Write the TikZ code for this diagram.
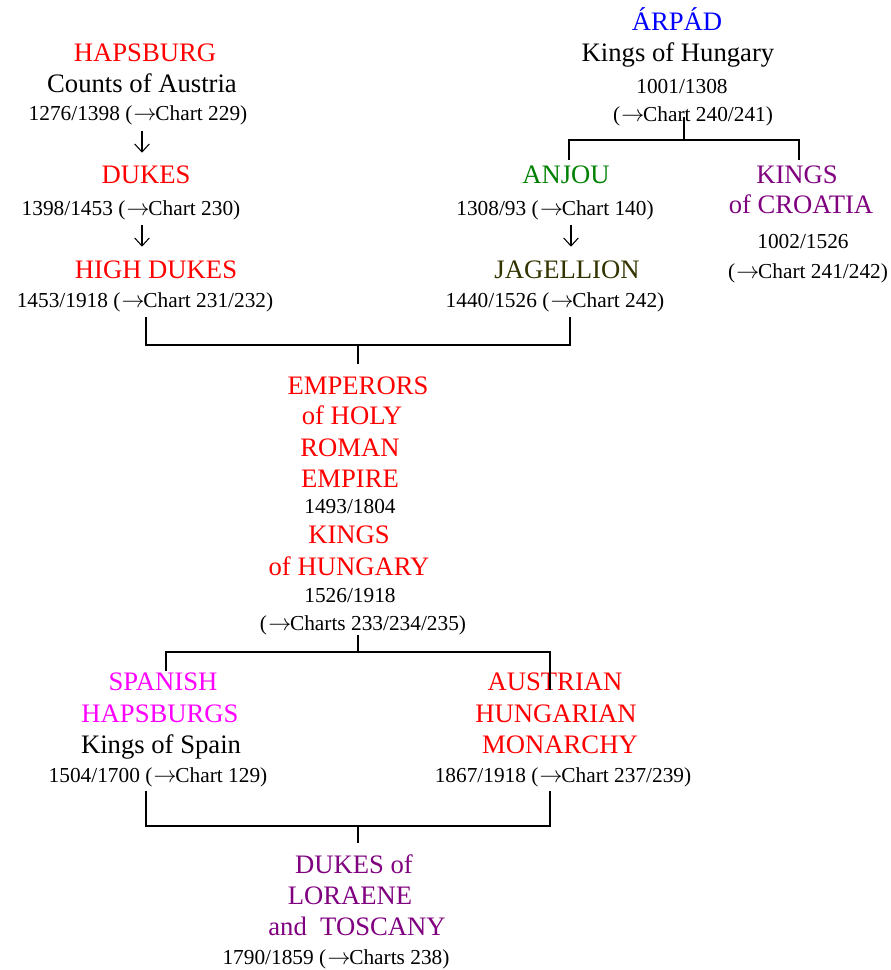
\documentclass[tikz,border=0pt]{standalone}
\usepackage{fontspec}
\setmainfont{Liberation Serif}
\usepackage{xcolor}
\usetikzlibrary{arrows.meta,calc}
\definecolor{arpadblue}{RGB}{0,0,255}
\definecolor{anjougreen}{RGB}{0,128,0}
\definecolor{jagolive}{RGB}{51,51,0}
\definecolor{lorpurple}{RGB}{128,0,128}
\definecolor{spamagenta}{RGB}{255,0,255}
\newcommand{\toarr}{\mbox{$\mkern1mu\rightarrow\mkern-1mu$}}

\begin{document}
\begin{tikzpicture}[x=0.75pt,y=-0.75pt,
    every node/.style={inner sep=0pt,anchor=base},
    big/.style={font=\fontsize{20}{24}\selectfont},
    small/.style={font=\fontsize{16}{19}\selectfont},
    link/.style={line width=1.1pt},
    down/.style={line width=0.8pt,-{Straight Barb[length=6pt,width=11pt,line width=0.8pt]},
                 shorten <=4pt,shorten >=10pt}]
  \useasboundingbox (0,0) rectangle (890,970);
  % Hapsburg line
  \node[big,red]   (haps1) at (145,62)  {HAPSBURG};
  \node[big]       (haps2) at (142,93)  {Counts of Austria};
  \node[small]     (haps3) at (138,121) {1276/1398 (\toarr Chart 229)};
  \node[big,red]   (dukes1) at (146,184) {DUKES};
  \node[small]     (dukes2) at (131,215) {1398/1453 (\toarr Chart 230)};
  \node[big,red]   (high1) at (156,278) {HIGH DUKES};
  \node[small]     (high2) at (145,307) {1453/1918 (\toarr Chart 231/232)};
  \draw[down] (haps3.south -| haps2) -- (dukes1.north -| haps2);
  \draw[down] (dukes2.south -| haps2) -- (high1.north -| haps2);
  % Arpad line
  \node[big,arpadblue] (arp1) at (677,31)  {ÁRPÁD};
  \node[big]           (arp2) at (678,62)  {Kings of Hungary};
  \node[small]         (arp3) at (682,94)  {1001/1308};
  \node[small]         (arp4) at (693,122) {(\toarr Chart 240/241)};
  \node[big,anjougreen] (anj1) at (566,183) {ANJOU};
  \node[small]          (anj2) at (555,215) {1308/93 (\toarr Chart 140)};
  \node[big,jagolive]   (jag1) at (567,278) {JAGELLION};
  \node[small]          (jag2) at (555,307) {1440/1526 (\toarr Chart 242)};
  \draw[down] ($(anj2.south -| jag1)+(4,0)$) -- ($(jag1.north)+(4,0)$);
  \node[big,lorpurple] (cro1) at (797,183) {KINGS};
  \node[big,lorpurple] (cro2) at (801,213) {of CROATIA};
  \node[small]         (cro3) at (803,248) {1002/1526};
  \node[small]         (cro4) at (808,278) {(\toarr Chart 241/242)};
  \coordinate (arpFork) at (684,140);
  \coordinate (anjTop) at (569,160);
  \coordinate (croTop) at (799,160);
  \draw[link] (arpFork |- arp4.center) -- (arpFork);
  \draw[link] (anjTop) |- (arpFork) -| (croTop);
  % Emperors
  \node[big,red] (emp1) at (358,394) {EMPERORS};
  \node[big,red] (emp2) at (352,424) {of HOLY};
  \node[big,red] (emp3) at (350,456) {ROMAN};
  \node[big,red] (emp4) at (350,487) {EMPIRE};
  \node[small]   (emp5) at (350,513) {1493/1804};
  \node[big,red] (emp6) at (349,543) {KINGS};
  \node[big,red] (emp7) at (349,575) {of HUNGARY};
  \node[small]   (emp8) at (350,602) {1526/1918};
  \node[small]   (emp9) at (363,630) {(\toarr Charts 233/234/235)};
  \coordinate (highFoot) at (146,317);
  \coordinate (jagFoot) at (570,317);
  \coordinate (empFork) at (358,345);
  \draw[link] (highFoot) |- (empFork) -| (jagFoot);
  \draw[link,shorten >=9.4pt] (empFork) -- (empFork |- emp1.north);
  % Spain and Austria-Hungary
  \node[big,spamagenta] (spa1) at (163,690) {SPANISH};
  \node[big,spamagenta] (spa2) at (160,722) {HAPSBURGS};
  \node[big]            (spa3) at (161,753) {Kings of Spain};
  \node[small]          (spa4) at (158,782) {1504/1700 (\toarr Chart 129)};
  \node[big,red] (aus1) at (555,690) {AUSTRIAN};
  \node[big,red] (aus2) at (556,722) {HUNGARIAN};
  \node[big,red] (aus3) at (560,753) {MONARCHY};
  \node[small]   (aus4) at (563,782) {1867/1918 (\toarr Chart 237/239)};
  \coordinate (spaFork) at (358,652);
  \coordinate (spaTop) at (166,671);
  \coordinate (ausTop) at (550,690);
  \draw[link] (emp9.south -| spaFork) -- (spaFork);
  \draw[link] (spaTop) |- (spaFork) -| (ausTop);
  % Loraene and Toscany
  \node[big,lorpurple] (tos1) at (354,873) {DUKES of};
  \node[big,lorpurple] (tos2) at (350,904) {LORAENE};
  \node[big,lorpurple] (tos3) at (357,935) {and~ TOSCANY};
  \node[small]         (tos4) at (336,964) {1790/1859 (\toarr Charts 238)};
  \coordinate (spaFoot) at (146,791);
  \coordinate (ausFoot) at (550,791);
  \coordinate (tosFork) at (358,826);
  \draw[link] (spaFoot) |- (tosFork) -| (ausFoot);
  \draw[link,shorten >=8pt] (tosFork) -- (tosFork |- tos1.north);
\end{tikzpicture}
\end{document}
